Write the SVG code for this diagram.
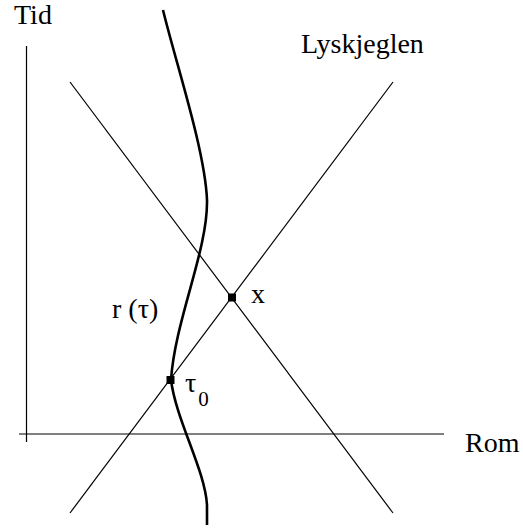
<svg xmlns="http://www.w3.org/2000/svg" width="523" height="529" viewBox="0 0 523 529">
<style>
.thin{stroke:#000;stroke-width:1.2;fill:none}
.world{stroke:#000;stroke-width:2.6;fill:none}
.lbl{font-family:"Liberation Serif","Times New Roman",serif;font-size:28px;fill:#000}
.pt{fill:#000}
</style>
<rect width="523" height="529" fill="#fff"/>
<g id="connectors">
<line class="thin" x1="26.5" y1="46" x2="26.5" y2="442"/>
<line class="thin" x1="19" y1="434" x2="444" y2="434"/>
<line class="thin" x1="70" y1="82" x2="393" y2="513"/>
<line class="thin" x1="70" y1="513" x2="393" y2="82"/>
<path id="worldline" class="world" d="M163,10 C175,60 205,150 207,200 C208,250 175,320 171,380 C176,420 205,470 207,505 L207,525"/>
</g>
<g id="tid"><text class="lbl" x="14" y="24">Tid</text></g>
<g id="rom"><text class="lbl" x="465" y="452">Rom</text></g>
<g id="lyskjeglen"><text class="lbl" x="301" y="53">Lyskjeglen</text></g>
<g id="event-x">
<rect class="pt" x="228" y="293.5" width="8" height="8"/>
<text class="lbl" x="251" y="303">x</text>
</g>
<g id="event-tau0">
<rect class="pt" x="166.5" y="376" width="8" height="8"/>
<text class="lbl" x="185" y="392">τ<tspan font-size="21" dx="2" dy="14">0</tspan></text>
</g>
<g id="r-tau"><text class="lbl" x="112" y="318">r (τ)</text></g>
</svg>
